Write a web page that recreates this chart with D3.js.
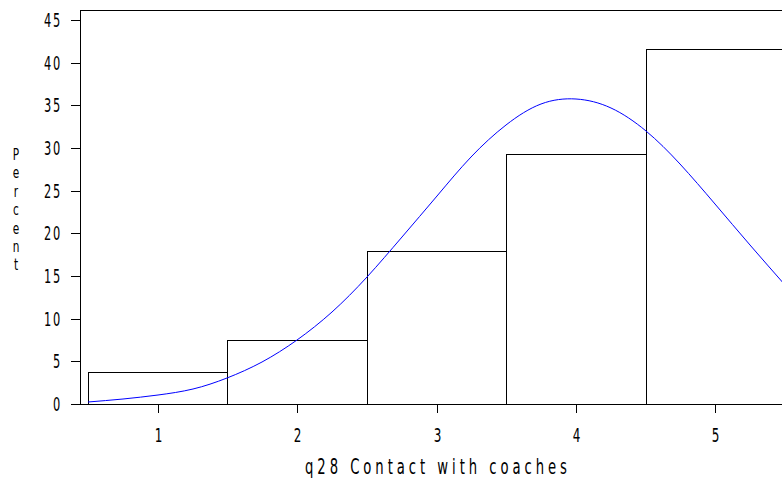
<!DOCTYPE html>
<html>
<head>
<meta charset="utf-8">
<script src="https://cdn.jsdelivr.net/npm/d3@7"></script>
<style>
  html, body { margin: 0; padding: 0; background: #fff; }
  svg { display: block; }
  .lbl { font-family: "DejaVu Sans", "Liberation Sans", sans-serif; fill: #000; }
</style>
</head>
<body>
<svg id="chart" width="782" height="483"></svg>
<script>
// ---- data ----
const categories = [1, 2, 3, 4, 5];
const binLow  = [0.5, 1.5, 2.5, 3.5, 4.5];
const binHigh = [1.5, 2.5, 3.5, 4.5, 5.5];
const percents = [3.7, 7.45, 17.9, 29.25, 41.6];
const yTicks = [0, 5, 10, 15, 20, 25, 30, 35, 40, 45];
const xTicks = [1, 2, 3, 4, 5];
// fitted normal curve
const curveX = [0.5, 0.75, 1.0, 1.25, 1.5, 1.75, 2.0, 2.25, 2.5, 2.75, 3.0, 3.25, 3.5, 3.75, 4.0, 4.25, 4.5, 4.75, 5.0, 5.25, 5.5];
const curveY = [0.28, 0.54, 1.01, 1.80, 3.04, 4.88, 7.45, 10.8, 14.9, 19.6, 24.4, 29.0, 32.7, 35.1, 35.8, 34.7, 32.0, 28.1, 23.4, 18.6, 14.0];
const xTitle = "q28 Contact with coaches";
const yTitle = "Percent";

const SX = 0.6; // horizontal squeeze to mimic the thin, narrow stroke font

const svg = d3.select("#chart");

const x = d3.scaleLinear().domain([0.5, 5.5]).rangeRound([88, 785]);
const y = d3.scaleLinear().domain([0, 45]).rangeRound([404, 20]);

// frame
const frame = svg.append("g").attr("stroke", "#000").attr("stroke-width", 1).attr("fill", "none");
frame.append("line").attr("x1", 80.5).attr("x2", 782).attr("y1", 10.5).attr("y2", 10.5);
frame.append("line").attr("x1", 80.5).attr("x2", 80.5).attr("y1", 10).attr("y2", 405);
frame.append("line").attr("x1", 80).attr("x2", 782).attr("y1", 404.5).attr("y2", 404.5);

// bars
svg.append("g").selectAll("rect").data(percents).join("rect")
  .attr("x", (d, i) => x(binLow[i]) + 0.5)
  .attr("width", (d, i) => x(binHigh[i]) - x(binLow[i]))
  .attr("y", d => y(d) + 0.5)
  .attr("height", d => y(0) - y(d))
  .attr("fill", "none")
  .attr("stroke", "#000")
  .attr("stroke-width", 1);

// normal curve
const pts = curveX.map((v, i) => [v, curveY[i]]);
svg.append("path")
  .attr("d", d3.line().x(d => x(d[0])).y(d => y(d[1])).curve(d3.curveNatural)(pts))
  .attr("fill", "none")
  .attr("stroke", "#0000ff")
  .attr("stroke-width", 1);

// y axis
const yAxis = svg.append("g").attr("transform", "translate(80,0)")
  .call(d3.axisLeft(y).tickValues(yTicks).tickSize(9).tickFormat(d3.format("d")));
yAxis.select(".domain").remove();
yAxis.selectAll("line").attr("stroke", "#000");
yAxis.selectAll("text").attr("class", "lbl").attr("font-family", null)
  .attr("x", -18 / SX)
  .attr("dy", "0.36em")
  .attr("font-size", 19)
  .attr("letter-spacing", 3)
  .attr("transform", `scale(${SX},1)`);

// x axis
const xAxis = svg.append("g").attr("transform", "translate(0,404)")
  .call(d3.axisBottom(x).tickValues(xTicks).tickSize(9).tickFormat(d3.format("d")));
xAxis.select(".domain").remove();
xAxis.selectAll("line").attr("stroke", "#000");
xAxis.selectAll("text").attr("class", "lbl").attr("font-family", null)
  .attr("font-size", 20)
  .attr("y", 38).attr("dy", null)
  .attr("transform", `scale(${SX},1)`);

// x title
svg.append("text").attr("class", "lbl")
  .attr("transform", `translate(436,474) scale(${SX},1)`)
  .attr("text-anchor", "middle")
  .attr("font-size", 22)
  .attr("textLength", 262 / SX).attr("lengthAdjust", "spacing")
  .text(xTitle);

// y title (stacked letters)
svg.append("g").selectAll("text").data(yTitle.split("")).join("text")
  .attr("class", "lbl")
  .attr("transform", (d, i) => `translate(16,${160 + i * 18.4}) scale(0.68,1)`)
  .attr("text-anchor", "middle")
  .attr("font-size", 15.5)
  .text(d => d);
</script>
</body>
</html>
